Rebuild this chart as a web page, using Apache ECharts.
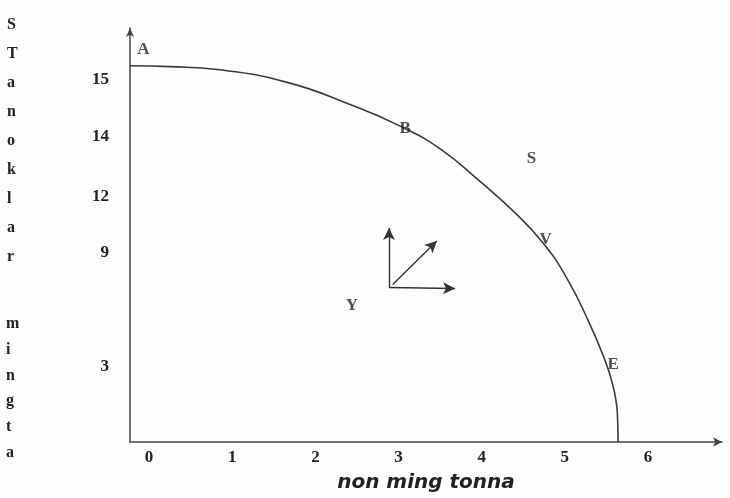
<!DOCTYPE html>
<html>
<head>
<meta charset="utf-8">
<script src="https://cdn.jsdelivr.net/npm/echarts@6/dist/echarts.min.js"></script>
<style>
  html, body { margin: 0; padding: 0; background: #fdfdfd; }
  #chart { width: 730px; height: 498px; }
</style>
</head>
<body>
<div id="chart"></div>
<script>
// x ticks printed under the axis
const xTicks = [0, 1, 2, 3, 4, 5, 6];
// y tick labels as printed, and where they sit on the (unscaled) drawing
const yTickLabels = ['15', '14', '12', '9', '3'];
const yTickPos = [15, 12.62, 10.16, 7.83, 3.11];

// production possibility curve
const curveX = [-0.23, 0.25, 0.82, 1.66, 2.45, 3.02, 3.50, 3.98, 4.38, 4.74, 5.02, 5.30, 5.48, 5.57, 5.62, 5.635, 5.64];
const curveY = [15.57, 15.53, 15.41, 14.88, 13.92, 13.07, 12.13, 10.78, 9.55, 8.22, 6.80, 4.88, 3.40, 2.45, 1.60, 0.86, 0];

// letter annotations
const pointNames = ['A', 'B', 'S', 'V', 'E', 'Y'];
const pointX = [-0.07, 3.08, 4.60, 4.77, 5.58, 2.44];
const pointY = [16.23, 12.95, 11.72, 8.36, 3.20, 5.66];

// growth arrows (from -> to)
const arrowFrom = [[2.885, 6.39], [2.93, 6.52], [2.885, 6.39]];
const arrowTo = [[2.885, 8.85], [3.46, 8.32], [3.68, 6.35]];

const chart = echarts.init(document.getElementById('chart'));

const ink = '#222';
const serif = '"Liberation Serif", "DejaVu Serif", serif';

const option = {
  backgroundColor: '#fdfdfd',
  animation: false,
  grid: { left: 130, right: 8, top: 28, bottom: 52 },
  xAxis: {
    type: 'value',
    min: -0.23,
    max: 6.89,
    splitLine: { show: false },
    axisTick: { show: false },
    axisLine: {
      onZero: false,
      symbol: ['none', 'arrow'],
      symbolSize: [7, 9],
      lineStyle: { color: '#444', width: 1.5 }
    },
    axisLabel: {
      customValues: xTicks,
      color: ink,
      fontFamily: serif,
      fontWeight: 'bold',
      fontSize: 17,
      margin: 7
    },
    name: 'non ming tonna',
    nameLocation: 'middle',
    nameGap: 31,
    nameTextStyle: {
      color: ink,
      fontFamily: '"DejaVu Sans", sans-serif',
      fontStyle: 'italic',
      fontWeight: 'bold',
      fontSize: 20
    }
  },
  yAxis: {
    type: 'value',
    min: 0,
    max: 17.13,
    splitLine: { show: false },
    axisTick: { show: false },
    axisLine: {
      onZero: false,
      symbol: ['none', 'arrow'],
      symbolSize: [6, 9],
      lineStyle: { color: '#444', width: 1.5 }
    },
    axisLabel: {
      customValues: yTickPos,
      formatter: function (v) {
        const i = yTickPos.indexOf(v);
        return i >= 0 ? yTickLabels[i] : '';
      },
      color: ink,
      fontFamily: serif,
      fontWeight: 'bold',
      fontSize: 17,
      margin: 21
    }
  },
  series: [
    {
      type: 'line',
      data: curveX.map((x, i) => [x, curveY[i]]),
      smooth: 0.5,
      symbol: 'none',
      lineStyle: { color: '#3a3a3a', width: 1.6 },
      z: 3
    },
    {
      type: 'scatter',
      data: pointNames.map((n, i) => ({ value: [pointX[i], pointY[i]], name: n })),
      symbolSize: 0,
      label: {
        show: true,
        position: 'inside',
        formatter: '{b}',
        color: ink,
        fontFamily: serif,
        fontWeight: 'bold',
        fontSize: 17
      },
      z: 4
    },
    {
      type: 'line',
      data: [],
      markLine: {
        silent: true,
        symbol: ['none', 'arrow'],
        symbolSize: [9, 12],
        label: { show: false },
        lineStyle: { color: '#333', width: 1.4, type: 'solid' },
        data: arrowFrom.map((f, i) => [{ coord: f }, { coord: arrowTo[i] }])
      }
    }
  ],
  graphic: [
    {
      type: 'text',
      left: 7,
      top: 10,
      style: {
        text: 'S\nT\na\nn\no\nk\nl\na\nr',
        fill: ink,
        font: 'bold 16px ' + serif,
        lineHeight: 29,
        align: 'center'
      }
    },
    {
      type: 'text',
      left: 6,
      top: 311,
      style: {
        text: 'm\ni\nn\ng\nt\na',
        fill: ink,
        font: 'bold 16px ' + serif,
        lineHeight: 25.8,
        align: 'center'
      }
    }
  ]
};

chart.setOption(option);
</script>
</body>
</html>
